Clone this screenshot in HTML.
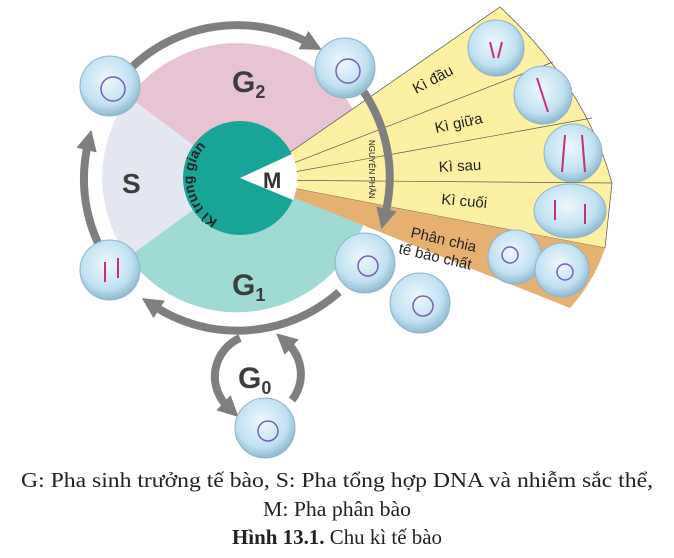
<!DOCTYPE html>
<html><head><meta charset="utf-8"><style>
html,body{margin:0;padding:0;background:#fff;}
svg{display:block}
</style></head><body>
<svg width="674" height="558" viewBox="0 0 674 558" xmlns="http://www.w3.org/2000/svg">
<defs>
<radialGradient id="cell" cx="0.45" cy="0.4" r="0.6">
<stop offset="0" stop-color="#eef8fd"/><stop offset="0.7" stop-color="#bfe1f2"/><stop offset="1" stop-color="#8fb9cf"/>
</radialGradient>
<marker id="ah" viewBox="0 0 5 5" markerWidth="2.6" markerHeight="2.6" refX="1.5" refY="2.5" orient="auto" markerUnits="strokeWidth">
<path d="M0,0 L5,2.5 L0,5 Z" fill="#7f7f7f"/>
</marker>
<path id="kp" d="M218,220 A46,46 0 0 1 262,137"/>
</defs>
<path d="M237,178 L129,97 A135,135 0 0 1 372,178 Z" fill="#e8c3d3"/>
<path d="M237,178 L372,178 A135,135 0 0 1 128,257 Z" fill="#a0dad4"/>
<path d="M237,178 L128,257 A135,135 0 0 1 129,97 Z" fill="#e4e6f2"/>
<path d="M250,180 L500,7 Q585,85 612,183 L605,248 L250,180 Z" fill="#fcf1a2" stroke="#555" stroke-width="0.7"/>
<path d="M250,180 L605,248 Q595,280 570,308 L250,180 Z" fill="#e6b070"/>
<g stroke="#555" stroke-width="0.7">
<line x1="250" y1="180" x2="553" y2="62"/>
<line x1="250" y1="180" x2="592" y2="118"/>
<line x1="250" y1="180" x2="612" y2="183"/>
</g>
<circle cx="240" cy="178" r="57" fill="#17a597"/>
<path d="M240,178 L292,154 A57,57 0 0 1 293,200 Z" fill="#fff"/>
<text font-family="Liberation Sans, sans-serif" font-weight="bold" font-size="14" fill="#222"><textPath href="#kp">Kì trung gian</textPath></text>
<text x="263" y="188" font-family="Liberation Sans, sans-serif" font-weight="bold" font-size="22" fill="#333">M</text>
<g fill="none" stroke="#7f7f7f" stroke-width="8">
<path d="M98,243 A153,153 0 0 1 88,144" marker-end="url(#ah)"/>
<path d="M129,70 A153,153 0 0 1 309,43" marker-end="url(#ah)"/>
<path d="M358,84 A153,153 0 0 1 385,215" marker-end="url(#ah)"/>
<path d="M339,292 A153,153 0 0 1 154,306" marker-end="url(#ah)"/>
<path d="M240,338 A42,42 0 0 0 228,407" marker-end="url(#ah)"/>
<path d="M292,400 A42,42 0 0 0 287,343" marker-end="url(#ah)"/>
</g>
<g font-family="Liberation Sans, sans-serif" font-weight="bold" fill="#3d3d3d">
<text x="232" y="92" font-size="30">G<tspan font-size="18" dy="6">2</tspan></text>
<text x="122" y="193" font-size="28">S</text>
<text x="232" y="295" font-size="30">G<tspan font-size="18" dy="6">1</tspan></text>
<text x="238" y="388" font-size="30">G<tspan font-size="18" dy="6">0</tspan></text>
</g>
<text transform="translate(369,140) rotate(90)" font-family="Liberation Sans, sans-serif" font-size="8" fill="#222">NGUYÊN PHÂN</text>
<g font-family="Liberation Sans, sans-serif" font-size="15" fill="#222">
<text transform="translate(416,94) rotate(-28)">Kì đầu</text>
<text transform="translate(436,133) rotate(-12)">Kì giữa</text>
<text transform="translate(439,172) rotate(-3)">Kì sau</text>
<text transform="translate(441,204) rotate(5)">Kì cuối</text>
<text transform="translate(410,237) rotate(13)">Phân chia</text>
<text transform="translate(398,253) rotate(13)">tế bào chất</text>
</g>
<g stroke="#8fb4c8" stroke-width="1" fill="url(#cell)">
<circle cx="110" cy="86" r="30"/><circle cx="345" cy="68" r="30"/>
<circle cx="110" cy="270" r="30"/><circle cx="365" cy="263" r="30"/>
<circle cx="420" cy="303" r="30"/><circle cx="265" cy="428" r="30"/>
<circle cx="496" cy="48" r="28"/><circle cx="543" cy="95" r="29"/>
<circle cx="573" cy="153" r="29"/><ellipse cx="570" cy="211" rx="36" ry="27"/>
<circle cx="515" cy="257" r="27"/><circle cx="562" cy="270" r="27"/>
</g>
<g fill="none" stroke="#7a5fb5" stroke-width="1.5">
<circle cx="113" cy="89" r="12"/><circle cx="348" cy="71" r="12"/>
<circle cx="368" cy="266" r="10"/><circle cx="423" cy="306" r="10"/><circle cx="268" cy="431" r="10"/>
<circle cx="510" cy="255" r="8"/><circle cx="565" cy="272" r="8"/>
</g>
<g stroke="#c2307a" stroke-width="2">
<line x1="105" y1="262" x2="105" y2="282"/><line x1="118" y1="258" x2="118" y2="278"/>
<line x1="490" y1="42" x2="494" y2="58"/><line x1="502" y1="42" x2="498" y2="58"/>
<line x1="537" y1="78" x2="548" y2="112"/><line x1="565" y1="135" x2="562" y2="172"/><line x1="582" y1="135" x2="585" y2="172"/>
<line x1="555" y1="200" x2="555" y2="220"/><line x1="585" y1="204" x2="585" y2="224"/>
</g>
<g font-family="Liberation Serif, serif" font-size="21" fill="#222" text-anchor="middle">
<text x="337" y="487" textLength="632" lengthAdjust="spacingAndGlyphs">G: Pha sinh trưởng tế bào, S: Pha tổng hợp DNA và nhiễm sắc thể,</text>
<text x="337" y="516" textLength="148" lengthAdjust="spacingAndGlyphs">M: Pha phân bào</text>
<text x="337" y="544" textLength="210" lengthAdjust="spacingAndGlyphs"><tspan font-weight="bold">Hình 13.1.</tspan> Chu kì tế bào</text>
</g>
</svg>
</body></html>
